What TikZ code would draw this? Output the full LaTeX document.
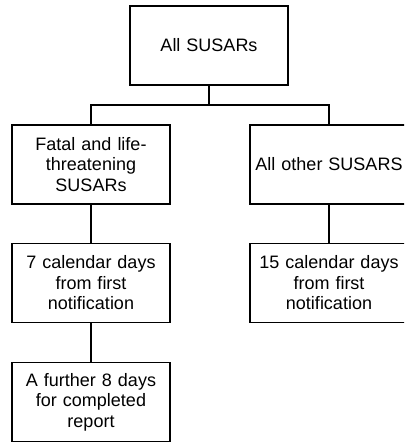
\documentclass[tikz,border=0pt]{standalone}
\usepackage{fontspec}
\setmainfont{Liberation Sans}
\begin{document}
\begin{tikzpicture}[x=1pt,y=-1pt,
  box/.style={draw, line width=1.3pt, minimum width=158pt, minimum height=79pt,
    inner sep=0pt, text width=154pt, align=center,
    font=\fontsize{18}{20.5}\selectfont},
  link/.style={line width=1.3pt}]
\useasboundingbox (0,0) rectangle (404,443);
\clip (0,0) rectangle (404,443);
\node[box] (all) at (209,45.5) {All SUSARs};
\node[box] (fatal) at (91,164.5) {Fatal and life-\\threatening\\SUSARs};
\node[box] (other) at (329,164.5) {All other SUSARS};
\node[box] (seven) at (91,283) {7 calendar days\\from first\\notification};
\node[box] (fifteen) at (329,283) {15 calendar days\\from first\\notification};
\node[box] (further) at (91,402) {A further 8 days\\for completed\\report};
\coordinate (bus) at (209,105);
\draw[link] (all.south) -- (bus);
\draw[link] (bus) -| (fatal.north);
\draw[link] (bus) -| (other.north);
\draw[link] (fatal) -- (seven);
\draw[link] (other) -- (fifteen);
\draw[link] (seven) -- (further);
\end{tikzpicture}
\end{document}
